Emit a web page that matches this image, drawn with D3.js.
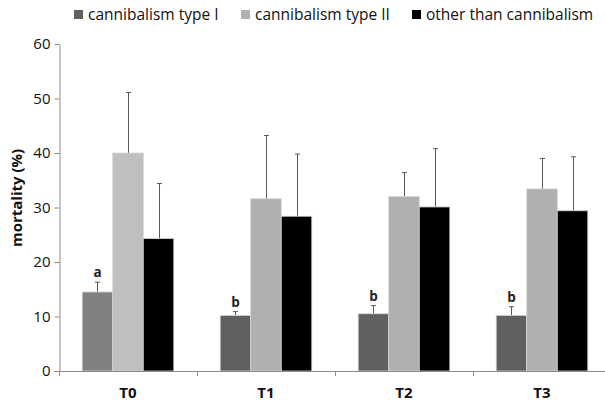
<!DOCTYPE html>
<html>
<head>
<meta charset="utf-8">
<script src="https://cdn.jsdelivr.net/npm/d3@7"></script>
<style>
  html, body { margin: 0; padding: 0; background: #fff; }
  svg text { font-family: "Open Sans", "Noto Sans", sans-serif; }
</style>
</head>
<body>
<svg id="chart" width="605" height="402"></svg>
<script>
// Treatments and series
const categories = ["T0", "T1", "T2", "T3"];
const series = ["cannibalism type I", "cannibalism type II", "other than cannibalism"];

// Mean mortality (%) per treatment
const typeI   = [14.5, 10.2, 10.5, 10.2];
const typeII  = [40.0, 31.6, 32.0, 33.4];
const other   = [24.3, 28.4, 30.1, 29.4];

// Upper error bar ends (%)
const typeIErr  = [16.3, 10.9, 12.0, 11.8];
const typeIIErr = [51.1, 43.2, 36.4, 39.0];
const otherErr  = [34.4, 39.8, 40.8, 39.3];

// Significance letters over cannibalism type I
const letters = ["a", "b", "b", "b"];

const yTicks = [0, 10, 20, 30, 40, 50, 60];

const values = [typeI, typeII, other];
const errs = [typeIErr, typeIIErr, otherErr];

// Fill colours: the first treatment is drawn in lighter greys
const fills = [["#808080", "#606060"], ["#bfbfbf", "#b0b0b0"], ["#000000", "#000000"]];
const legendFills = ["#606060", "#b0b0b0", "#000000"];

const svg = d3.select("#chart");

const x = d3.scaleBand().domain(categories).range([59, 611]).paddingInner(0).paddingOuter(0);
const xs = d3.scaleBand().domain(series).range([0, x.bandwidth()]).paddingInner(0).paddingOuter(0.76);
const y = d3.scaleLinear().domain([0, 60]).range([371, 44]);

const rows = [];
categories.forEach((c, i) => {
  series.forEach((s, j) => {
    rows.push({ c, s, i, j, v: values[j][i], e: errs[j][i] });
  });
});

// Error bars (upper only)
const eb = svg.append("g").attr("stroke", "#595959").attr("stroke-width", 1);
rows.forEach(d => {
  const cx = Math.round(x(d.c) + xs(d.s) + xs.bandwidth() / 2) + 0.5;
  eb.append("line").attr("x1", cx).attr("x2", cx).attr("y1", y(d.v)).attr("y2", y(d.e));
  eb.append("line").attr("x1", cx - 2.5).attr("x2", cx + 2.5).attr("y1", y(d.e)).attr("y2", y(d.e));
});

// Bars
svg.append("g").selectAll("rect").data(rows).join("rect")
  .attr("x", d => x(d.c) + xs(d.s))
  .attr("width", xs.bandwidth())
  .attr("y", d => y(d.v))
  .attr("height", d => y(0) - y(d.v))
  .attr("fill", d => fills[d.j][d.i === 0 ? 0 : 1])
  .attr("stroke", "#d4d4d4")
  .attr("stroke-width", 0.8);

// Letters
svg.append("g").selectAll("text").data(categories).join("text")
  .attr("x", (c) => x(c) + xs(series[0]) + xs.bandwidth() / 2)
  .attr("y", (c, i) => y(typeIErr[i]) - 5)
  .attr("text-anchor", "middle")
  .attr("font-size", 13.5)
  .attr("font-weight", "bold")
  .attr("fill", "#222")
  .text((c, i) => letters[i]);

// Y axis
const yAxis = svg.append("g").attr("transform", "translate(59.5,0)")
  .call(d3.axisLeft(y).tickValues(yTicks).tickSize(5).tickPadding(4).tickSizeOuter(0));
yAxis.select(".domain").attr("stroke", "#8c8c8c");
yAxis.selectAll(".tick line").attr("stroke", "#8c8c8c");
yAxis.selectAll(".tick text").attr("font-size", 15).attr("fill", "#111")
  .style("font-family", "'Open Sans', sans-serif");

// X axis line with boundary ticks
const xAxis = svg.append("g").attr("stroke", "#8c8c8c").attr("stroke-width", 1);
xAxis.append("line").attr("x1", 54).attr("x2", 611).attr("y1", y(0) + 0.5).attr("y2", y(0) + 0.5);
categories.concat(["end"]).forEach((c, i) => {
  const bx = Math.round(i < categories.length ? x(c) : x.range()[1]) + 0.5;
  xAxis.append("line").attr("x1", bx).attr("x2", bx).attr("y1", y(0)).attr("y2", y(0) + 5);
});

// Category labels
svg.append("g").selectAll("text").data(categories).join("text")
  .attr("x", c => x(c) + x.bandwidth() / 2)
  .attr("y", 398)
  .attr("text-anchor", "middle")
  .attr("font-size", 15)
  .attr("font-weight", "bold")
  .attr("fill", "#111")
  .text(c => c);

// Y axis title
svg.append("text")
  .attr("transform", "translate(22,198) rotate(-90)")
  .attr("text-anchor", "middle")
  .attr("font-size", 15)
  .attr("font-weight", "bold")
  .attr("fill", "#111")
  .text("mortality (%)");

// Legend
const legendX = [74, 241, 412];
const lg = svg.append("g");
series.forEach((s, j) => {
  lg.append("rect").attr("x", legendX[j]).attr("y", 10).attr("width", 9).attr("height", 9)
    .attr("fill", legendFills[j]);
  lg.append("text").attr("x", legendX[j] + 14).attr("y", 20)
    .attr("font-size", 15.5).attr("fill", "#111").text(s);
});
</script>
</body>
</html>
